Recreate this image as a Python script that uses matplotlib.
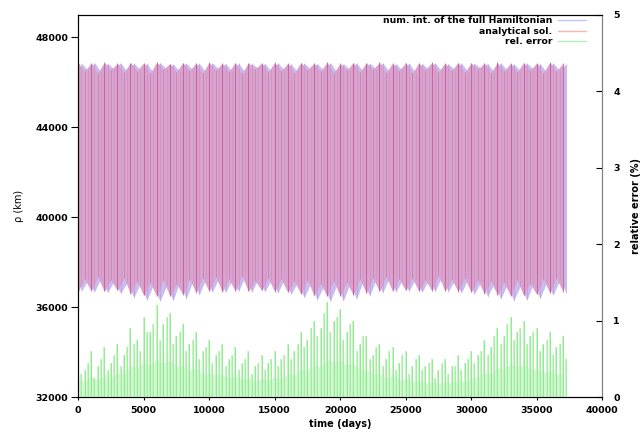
import numpy as np
import matplotlib
matplotlib.use("Agg")
import matplotlib.pyplot as plt
from matplotlib.lines import Line2D

# sampling of the envelopes (days); second set of samples sits half a step later
t = np.arange(0, 37001, 500)
t2 = t + 250

# rho (km): analytical solution, maxima / minima at t
ana_hi = [46880, 46500, 46860, 46420, 46890, 46560, 46850, 46450, 46880, 46520,
          46870, 46400, 46900, 46580, 46840, 46470, 46880, 46530, 46860, 46420,
          46890, 46550, 46850, 46480, 46880, 46400, 46870, 46600, 46860, 46460,
          46890, 46520, 46850, 46430, 46880, 46560, 46860, 46490, 46900, 46420,
          46850, 46540, 46880, 46470, 46870, 46580, 46890, 46440, 46850, 46520,
          46880, 46410, 46860, 46560, 46890, 46480, 46850, 46530, 46880, 46450,
          46870, 46590, 46860, 46430, 46890, 46510, 46850, 46470, 46880, 46550,
          46860, 46420, 46890, 46500, 46850]
ana_lo = [36680, 37250, 36720, 37350, 36700, 37200, 36750, 37300, 36600, 37150,
          36520, 37100, 36480, 37200, 36500, 37050, 36560, 37250, 36650, 37300,
          36700, 37350, 36680, 37250, 36720, 37400, 36700, 37200, 36740, 37300,
          36690, 37250, 36660, 37150, 36580, 37200, 36520, 37050, 36480, 37150,
          36500, 37100, 36540, 37250, 36620, 37300, 36700, 37350, 36720, 37250,
          36740, 37300, 36700, 37200, 36730, 37400, 36710, 37250, 36690, 37300,
          36660, 37200, 36600, 37150, 36540, 37100, 36500, 37200, 36520, 37050,
          36570, 37250, 36630, 37300, 36680]

# rho (km): numerical integration, maxima / minima at t2
num_hi = [46860, 46540, 46880, 46460, 46850, 46600, 46870, 46480, 46860, 46560,
          46850, 46430, 46880, 46600, 46820, 46500, 46860, 46560, 46850, 46450,
          46870, 46580, 46840, 46500, 46860, 46440, 46850, 46620, 46840, 46490,
          46870, 46550, 46830, 46460, 46860, 46590, 46840, 46520, 46880, 46450,
          46830, 46570, 46860, 46500, 46850, 46610, 46870, 46470, 46830, 46550,
          46860, 46440, 46840, 46590, 46870, 46510, 46830, 46560, 46860, 46480,
          46850, 46620, 46840, 46460, 46870, 46540, 46830, 46500, 46860, 46580,
          46840, 46450, 46870, 46530, 46830]
num_lo = [36700, 37200, 36680, 37300, 36660, 37150, 36620, 37100, 36420, 37050,
          36320, 37000, 36270, 36950, 36300, 37100, 36380, 37150, 36560, 37250,
          36680, 37300, 36660, 37200, 36710, 37350, 36680, 37250, 36700, 37200,
          36640, 37250, 36580, 37100, 36430, 37050, 36330, 36950, 36260, 37000,
          36290, 37050, 36370, 37150, 36500, 37250, 36650, 37300, 36690, 37200,
          36720, 37250, 36680, 37200, 36700, 37350, 36690, 37200, 36640, 37250,
          36590, 37150, 36470, 37050, 36370, 37000, 36290, 36950, 36310, 37050,
          36390, 37100, 36540, 37200, 36640]

# relative error (%): peaks at t and at t2, and the dense lower part
err_a = [0.55, 0.35, 0.60, 0.40, 0.65, 0.45, 0.70, 0.55, 0.90, 0.75,
         1.05, 0.85, 1.20, 0.95, 1.10, 0.80, 0.95, 0.70, 0.85, 0.60,
         0.75, 0.55, 0.70, 0.50, 0.65, 0.45, 0.60, 0.40, 0.55, 0.45,
         0.60, 0.50, 0.70, 0.60, 0.85, 0.75, 1.00, 0.90, 1.25, 1.00,
         1.15, 0.85, 1.00, 0.70, 0.80, 0.55, 0.70, 0.50, 0.65, 0.45,
         0.60, 0.40, 0.55, 0.40, 0.50, 0.35, 0.50, 0.40, 0.55, 0.45,
         0.60, 0.55, 0.75, 0.65, 0.90, 0.80, 1.05, 0.85, 1.00, 0.80,
         0.90, 0.70, 0.85, 0.65, 0.80]
err_b = [0.30, 0.45, 0.25, 0.50, 0.35, 0.55, 0.40, 0.65, 0.70, 0.60,
         0.85, 0.95, 0.75, 1.05, 0.70, 0.85, 0.60, 0.75, 0.50, 0.65,
         0.45, 0.60, 0.40, 0.55, 0.35, 0.50, 0.30, 0.45, 0.35, 0.50,
         0.40, 0.55, 0.50, 0.70, 0.65, 0.90, 0.80, 1.10, 0.85, 1.05,
         0.75, 0.95, 0.60, 0.80, 0.50, 0.65, 0.40, 0.60, 0.35, 0.55,
         0.30, 0.50, 0.35, 0.45, 0.25, 0.45, 0.30, 0.40, 0.35, 0.50,
         0.45, 0.60, 0.55, 0.80, 0.70, 0.95, 0.75, 0.90, 0.70, 0.85,
         0.60, 0.75, 0.55, 0.70, 0.50]
err_base = [0.25, 0.20, 0.28, 0.22, 0.30, 0.25, 0.32, 0.30, 0.40, 0.38,
            0.45, 0.42, 0.50, 0.45, 0.48, 0.40, 0.42, 0.35, 0.38, 0.30,
            0.32, 0.28, 0.30, 0.25, 0.28, 0.22, 0.26, 0.20, 0.24, 0.22,
            0.26, 0.25, 0.30, 0.28, 0.36, 0.35, 0.42, 0.40, 0.50, 0.46,
            0.48, 0.42, 0.44, 0.36, 0.35, 0.30, 0.30, 0.25, 0.28, 0.22,
            0.24, 0.20, 0.22, 0.18, 0.20, 0.16, 0.20, 0.18, 0.22, 0.20,
            0.25, 0.26, 0.32, 0.30, 0.38, 0.36, 0.44, 0.40, 0.42, 0.38,
            0.36, 0.32, 0.34, 0.30, 0.32]

plt.rcParams['font.family'] = 'DejaVu Sans'
fig = plt.figure(figsize=(6.4, 4.33), dpi=100)
ax = fig.add_axes([0.122, 0.0831, 0.819, 0.8823])

# rho band
ax.fill_between(t2, num_lo, num_hi, color='#c8bcf0', lw=0)
ax.fill_between(t, ana_lo, ana_hi, color='#d8a4cd', lw=0)
ax.vlines(t2, num_lo, num_hi, color='#b478c4', lw=0.6, alpha=0.35)
ax.vlines(t[::2], ana_lo[::2], ana_hi[::2], color='#c43c88', lw=0.8, alpha=0.6)
ax.vlines(t[1::2], ana_lo[1::2], ana_hi[1::2], color='#c43c88', lw=0.6, alpha=0.35)

ax.set_xlim(0, 40000)
ax.set_ylim(32000, 49000)
ax.set_xticks([0, 5000, 10000, 15000, 20000, 25000, 30000, 35000, 40000])
ax.set_yticks([32000, 36000, 40000, 44000, 48000])
ax.tick_params(axis='y', direction='out', length=5, pad=2, labelsize=6.8)
ax.tick_params(axis='x', direction='out', length=2.5, pad=4, labelsize=6.8)
for lab in ax.get_xticklabels() + ax.get_yticklabels():
    lab.set_fontweight('bold')
ax.set_xlabel('time (days)', fontsize=7, fontweight='bold', labelpad=3)
ax.set_ylabel('ρ (km)', fontsize=7, labelpad=8)

# relative error
ax2 = ax.twinx()
ax2.fill_between(t, 0, err_base, color='#d4f6d4', lw=0)
ax2.vlines(t, 0, err_a, color='#c0f4c0', lw=1.3)
ax2.vlines(t2, 0, err_b, color='#c0f4c0', lw=1.3)
ax2.vlines(t, 0, err_a, color='#48e048', lw=0.5, alpha=0.6)
ax2.vlines(t2, 0, err_b, color='#48e048', lw=0.5, alpha=0.4)
ax2.set_ylim(0, 5)
ax2.set_yticks([0, 1, 2, 3, 4, 5])
ax2.tick_params(axis='y', direction='in', length=4, pad=8, labelsize=6.8)
for lab in ax2.get_yticklabels():
    lab.set_fontweight('bold')
ax2.set_ylabel('relative error (%)', fontsize=7, fontweight='bold', labelpad=8)
ax2.spines['right'].set_color('#808080')
ax.spines['right'].set_color('#808080')

handles = [Line2D([], [], color='#c4c4ff', lw=1),
           Line2D([], [], color='#ffb4b4', lw=1),
           Line2D([], [], color='#b4f0b4', lw=1)]
labels = ['num. int. of the full Hamiltonian', 'analytical sol.', 'rel. error']
leg = ax2.legend(handles, labels, loc='upper right', bbox_to_anchor=(0.985, 1.018),
                 frameon=False, markerfirst=False, handlelength=3.0,
                 handletextpad=0.6, labelspacing=0.15,
                 prop={'size': 6.7, 'weight': 'bold'})

fig.savefig('out.png', dpi=100)
